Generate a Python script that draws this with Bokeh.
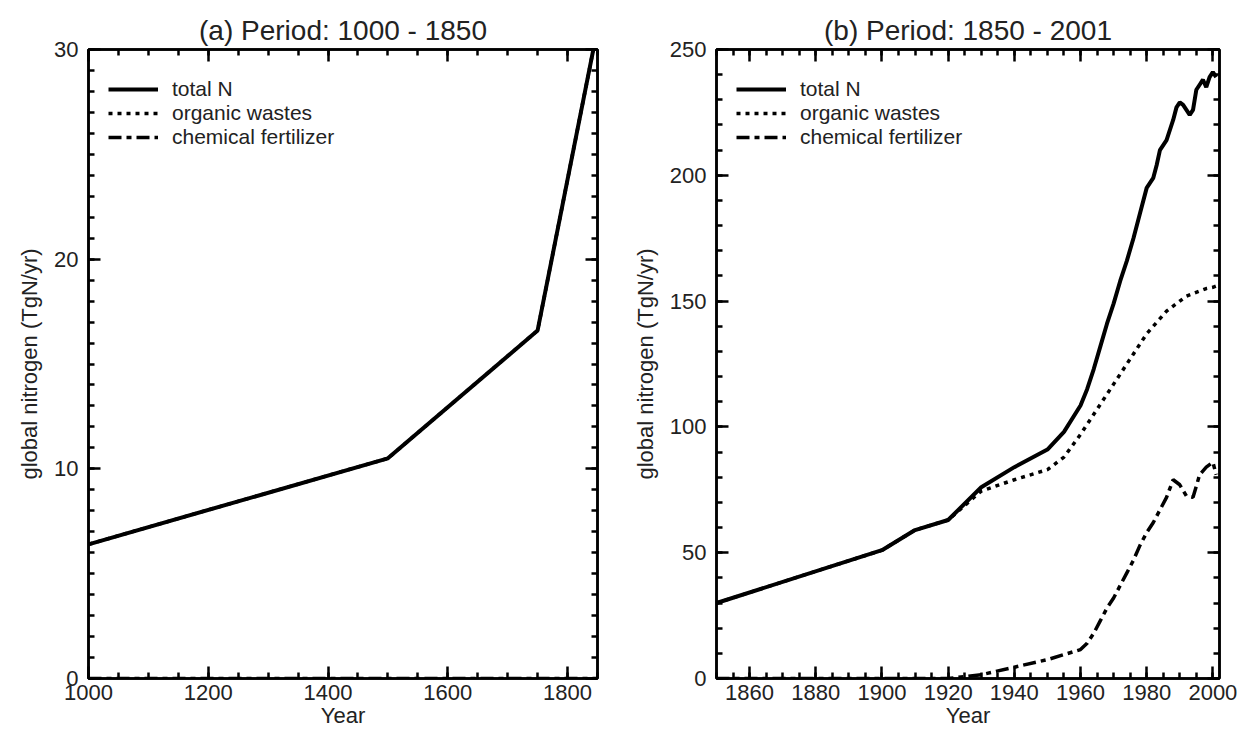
from bokeh.plotting import figure
from bokeh.models import (LinearAxis, SingleIntervalTicker, Range1d, Legend, LegendItem,
                          CustomJSTickFormatter)
from bokeh.layouts import row
from bokeh.embed import file_html
from bokeh.resources import INLINE

# ---------------- data ----------------
# panel (a) 1000-1850
years_a = [1000, 1500, 1750, 1850]
total_a = [6.4, 10.5, 16.6, 31.0]
organic_a = [6.4, 10.5, 16.6, 31.0]
chem_a = [0, 0, 0, 0]

# panel (b) 1850-2001
years_b_total = [1850, 1900, 1910, 1920, 1930, 1940, 1950, 1955, 1960, 1962, 1964, 1966, 1968,
                 1970, 1972, 1974, 1976, 1978, 1980, 1982, 1983, 1984, 1986, 1988, 1989, 1990,
                 1991, 1992, 1993, 1994, 1995, 1996, 1997, 1998, 1999, 2000, 2001]
total_b = [30, 51, 59, 63, 76, 84, 91, 98, 108.5, 115, 123, 132, 141,
           149, 158, 166, 175, 185, 195, 199, 204, 210, 214, 222, 227, 229,
           228, 226, 224, 226, 234, 236, 238, 235, 239, 241, 239]

years_b_org = [1850, 1900, 1910, 1920, 1930, 1940, 1950, 1955, 1960, 1962, 1964, 1966, 1968,
               1970, 1972, 1974, 1976, 1978, 1980, 1982, 1984, 1986, 1988, 1990, 1992, 1994,
               1996, 1998, 2000, 2001]
organic_b = [30, 51, 59, 63, 74.5, 79, 83, 88, 97, 101, 105, 109, 113,
             117, 121, 125, 129, 133, 137, 140, 143, 146, 148, 150, 152, 153,
             154, 155, 155.5, 156]

years_b_chem = [1850, 1900, 1920, 1930, 1940, 1950, 1955, 1960, 1962, 1964, 1966, 1968,
                1970, 1972, 1974, 1976, 1978, 1980, 1982, 1984, 1986, 1988, 1990, 1992, 1994,
                1996, 1998, 2000, 2001]
chem_b = [0, 0, 0, 1.5, 4.5, 7.5, 9.5, 11.5, 14, 18, 23, 28,
          32, 37, 42, 47, 53, 58, 62, 67, 72, 79, 77, 72.5, 72,
          81, 84, 86, 81]

legend_labels = ["total N", "organic wastes", "chemical fertilizer"]

FONT = "Liberation Sans"
TXT = "#222222"
H = 736
TOP = 49
BOTTOM = 58


def style_ticks(ax):
    ax.major_tick_in = 12
    ax.major_tick_out = 0
    ax.minor_tick_in = 6
    ax.minor_tick_out = 0
    ax.major_tick_line_width = 2.5
    ax.minor_tick_line_width = 2.5
    ax.axis_line_width = 2.5
    ax.major_tick_line_color = "black"
    ax.minor_tick_line_color = "black"
    ax.axis_line_color = "black"


def blank_axis(ticker, loc, p):
    ax = LinearAxis(ticker=ticker, formatter=CustomJSTickFormatter(code="return ''"))
    ax.major_label_standoff = 0
    style_ticks(ax)
    p.add_layout(ax, loc)


def make_panel(title, xr, yr, xint, xminor, yint, yminor, width, bl, br, series):
    p = figure(width=width, height=H, x_range=Range1d(*xr), y_range=Range1d(*yr),
               output_backend="svg", toolbar_location=None,
               min_border_left=bl, min_border_right=br, min_border_top=TOP,
               min_border_bottom=BOTTOM)
    p.grid.visible = False
    p.outline_line_color = "black"
    p.outline_line_width = 2.5
    p.background_fill_color = "white"
    p.border_fill_color = "white"

    p.xaxis.ticker = SingleIntervalTicker(interval=xint, num_minor_ticks=xminor)
    p.yaxis.ticker = SingleIntervalTicker(interval=yint, num_minor_ticks=yminor)
    for ax in (p.xaxis[0], p.yaxis[0]):
        style_ticks(ax)
        ax.major_label_text_font = FONT
        ax.major_label_text_font_size = "22px"
        ax.major_label_text_color = TXT
        ax.axis_label_text_font = FONT
        ax.axis_label_text_font_style = "normal"
        ax.axis_label_text_color = TXT
    p.xaxis.axis_label = "Year"
    p.xaxis.axis_label_text_font_size = "22px"
    p.xaxis.axis_label_standoff = 0
    p.xaxis.major_label_standoff = 6
    p.yaxis.axis_label = "global nitrogen (TgN/yr)"
    p.yaxis.axis_label_text_font_size = "22px"
    p.yaxis.major_label_standoff = 10
    p.yaxis.axis_label_standoff = 9
    p.yaxis.major_label_orientation = "horizontal"

    blank_axis(SingleIntervalTicker(interval=xint, num_minor_ticks=xminor), "above", p)
    blank_axis(SingleIntervalTicker(interval=yint, num_minor_ticks=yminor), "right", p)

    p.title.text = title
    p.title.align = "center"
    p.title.text_font = FONT
    p.title.text_font_size = "28px"
    p.title.text_font_style = "normal"
    p.title.text_color = TXT
    p.title.standoff = 8

    (x_t, y_t), (x_o, y_o), (x_c, y_c) = series
    r_c = p.line(x_c, y_c, line_color="black", line_width=3.5, line_dash="13 5 5 5")
    r_o = p.line(x_o, y_o, line_color="black", line_width=3.5, line_dash="4 5")
    r_t = p.line(x_t, y_t, line_color="black", line_width=4)

    frame_h = H - TOP - BOTTOM
    for i, (lab, r) in enumerate(zip(legend_labels, (r_t, r_o, r_c))):
        leg = Legend(items=[LegendItem(label=lab, renderers=[r])],
                     location=(20, frame_h - (52 + 24 * i)))
        leg.border_line_color = None
        leg.background_fill_alpha = 0
        leg.label_text_font = FONT
        leg.label_text_font_size = "21px"
        leg.label_text_color = TXT
        leg.glyph_width = 50
        leg.glyph_height = 20
        leg.label_height = 20
        leg.spacing = 0
        leg.padding = 0
        leg.margin = 0
        leg.label_standoff = 14
        p.add_layout(leg, "center")
    return p


pa = make_panel("(a) Period: 1000 - 1850", (1000, 1850), (0, 30), 200, 4, 10, 10, 620, 88, 23,
                ((years_a, total_a), (years_a, organic_a), (years_a, chem_a)))
pb = make_panel("(b) Period: 1850 - 2001", (1850, 2002), (0, 250), 20, 4, 50, 5, 617, 96, 18,
                ((years_b_total, total_b), (years_b_org, organic_b), (years_b_chem, chem_b)))

layout = row(pa, pb)
open("out.html", "w").write(file_html(layout, INLINE))
